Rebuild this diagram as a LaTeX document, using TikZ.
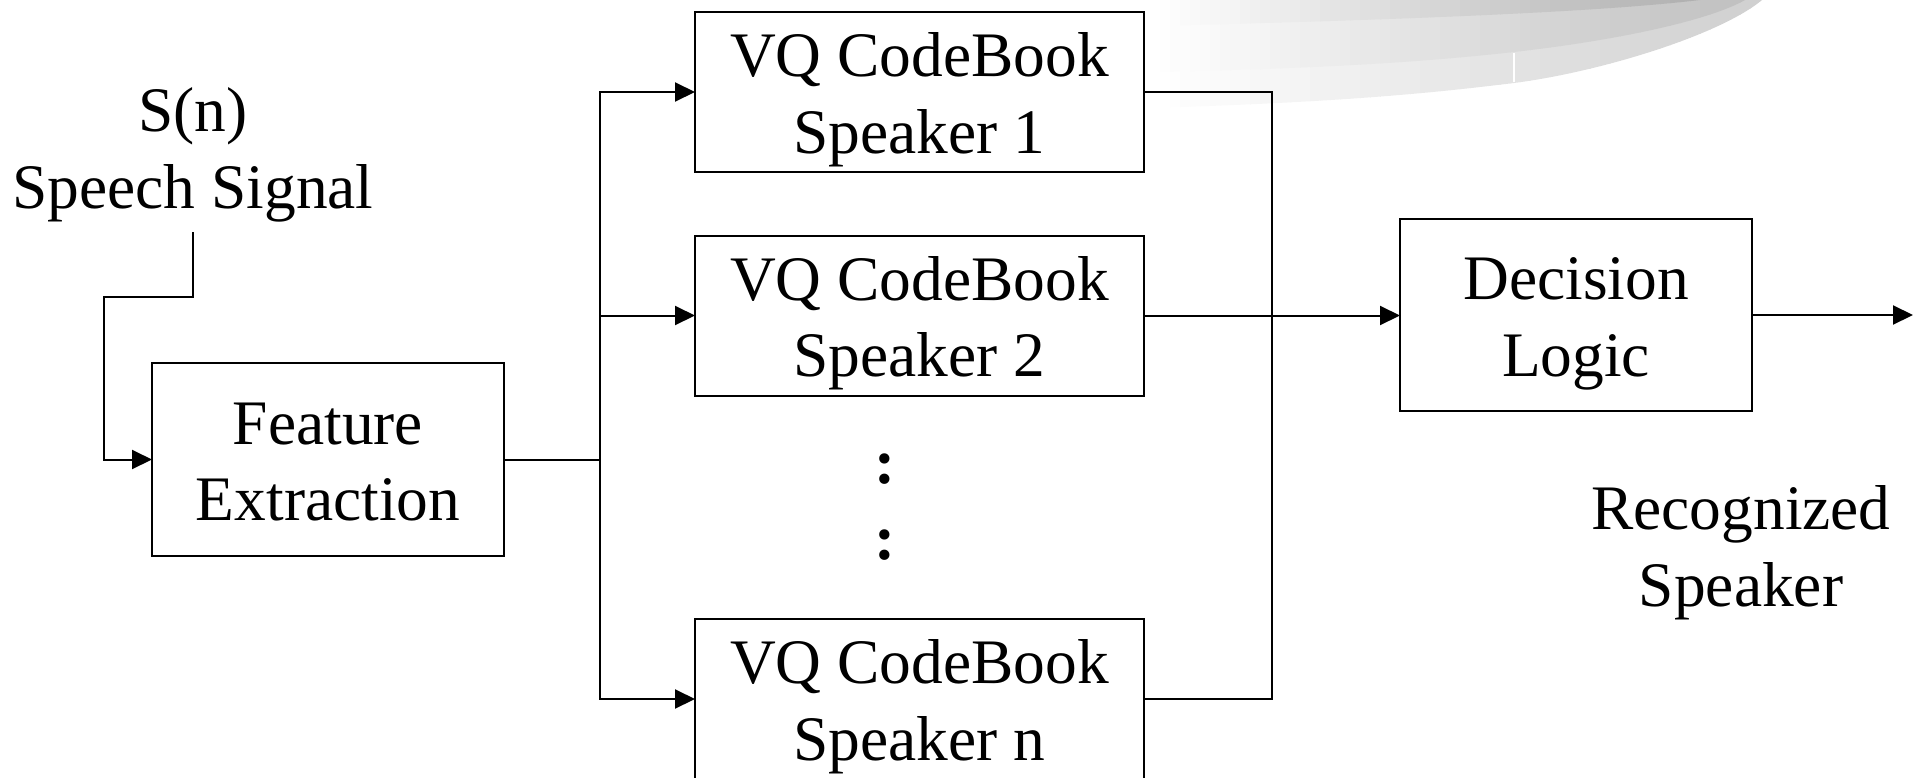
\documentclass[tikz,border=0pt]{standalone}
\usepackage{fontspec}
\setmainfont{Liberation Serif}
\usetikzlibrary{arrows.meta,calc}
\newcommand\tstrut{\rule{0pt}{60pt}}
\newcommand\bstrut{\rule[-14pt]{0pt}{14pt}}
\begin{document}
\begin{tikzpicture}[x=1pt,y=-1pt,
  txt/.style={font=\fontsize{63.4pt}{76.5pt}\selectfont, align=center, inner sep=0pt, outer sep=0pt},
  blk/.style={txt, draw, line width=2pt},
  cbk/.style={blk, minimum width=449pt, minimum height=160pt},
  ln/.style={line width=2pt},
  arr/.style={line width=2pt, -{Triangle[length=20pt,width=19pt]}}]
\useasboundingbox (0,0) rectangle (1923,777);
\clip (0,0) rectangle (1923,777);
% background swoosh, built from overlapping vertical strips
\begin{scope}
\clip (1150,0) -- (1150,108)
  .. controls (1350,102) and (1440,92) .. (1514,83)
  .. controls (1600,72) and (1720,35) .. (1762,0) -- cycle;
\foreach \i in {0,...,61} {
  \pgfmathtruncatemacro\p{min(100,(\i*10+5)/612*38)}
  \fill[gray!\p] (1150+\i*10,-2) rectangle (1161+\i*10,112);
}
\end{scope}
\begin{scope}
\clip (1150,0) -- (1150,72)
  .. controls (1350,68) and (1440,60) .. (1514,52)
  .. controls (1620,40) and (1710,20) .. (1745,0) -- cycle;
\foreach \i in {0,...,60} {
  \pgfmathtruncatemacro\p{min(100,(\i*10+5)/595*50)}
  \fill[gray!\p] (1150+\i*10,-2) rectangle (1161+\i*10,112);
}
\end{scope}
\begin{scope}
\clip (1150,0) -- (1150,26)
  .. controls (1400,20) and (1600,12) .. (1700,0) -- cycle;
\foreach \i in {0,...,55} {
  \pgfmathtruncatemacro\p{min(100,(\i*10+5)/550*63)}
  \fill[gray!\p] (1150+\i*10,-2) rectangle (1161+\i*10,112);
}
\end{scope}
\draw[white, line width=1.5pt] (1514,53) -- (1514,82);
% nodes
\node[txt] (sig) at (193,147) {\tstrut S(n)\\Speech Signal\bstrut};
\node[blk, minimum width=352pt, minimum height=193pt] (fe) at (328,459.5) {\tstrut Feature\\Extraction\bstrut};
\node[cbk] (cb1) at (919.5,92) {\tstrut VQ CodeBook\\Speaker 1\bstrut};
\node[cbk] (cb2) at (919.5,315.5) {\tstrut VQ CodeBook\\Speaker 2\bstrut};
\node[cbk] (cbn) at (919.5,699) {\tstrut VQ CodeBook\\Speaker n\bstrut};
\node[txt, font=\fontsize{63.4pt}{76.5pt}\selectfont\bfseries, anchor=base] (d1) at (885,483) {:};
\node[txt, font=\fontsize{63.4pt}{76.5pt}\selectfont\bfseries, anchor=base] (d2) at (885,559) {:};
\node[blk, minimum width=352pt, minimum height=192pt] (dl) at (1576,315) {\tstrut Decision\\Logic\bstrut};
\node[txt] (rec) at (1741,545) {\tstrut Recognized\\Speaker\bstrut};
\coordinate (s0) at ($(sig.south)+(0,10)$);
\coordinate (j1) at (104,297);
\coordinate (busL) at (600,459.5);
\coordinate (busR) at (1272,315.5);
\coordinate (out) at (1913,315);
% connectors
\draw[arr] (s0) |- (j1) |- (fe.west);
\draw[ln] (fe.east) -- (busL);
\draw[arr] (busL) |- (cb1.west);
\draw[arr] (busL) |- (cb2.west);
\draw[arr] (busL) |- (cbn.west);
\draw[ln] (cb1.east) -| (busR);
\draw[ln] (cbn.east) -| (busR);
\draw[arr] (cb2.east) -- (cb2.east -| dl.west);
\draw[arr] (dl.east) -- (out);
\end{tikzpicture}
\end{document}
